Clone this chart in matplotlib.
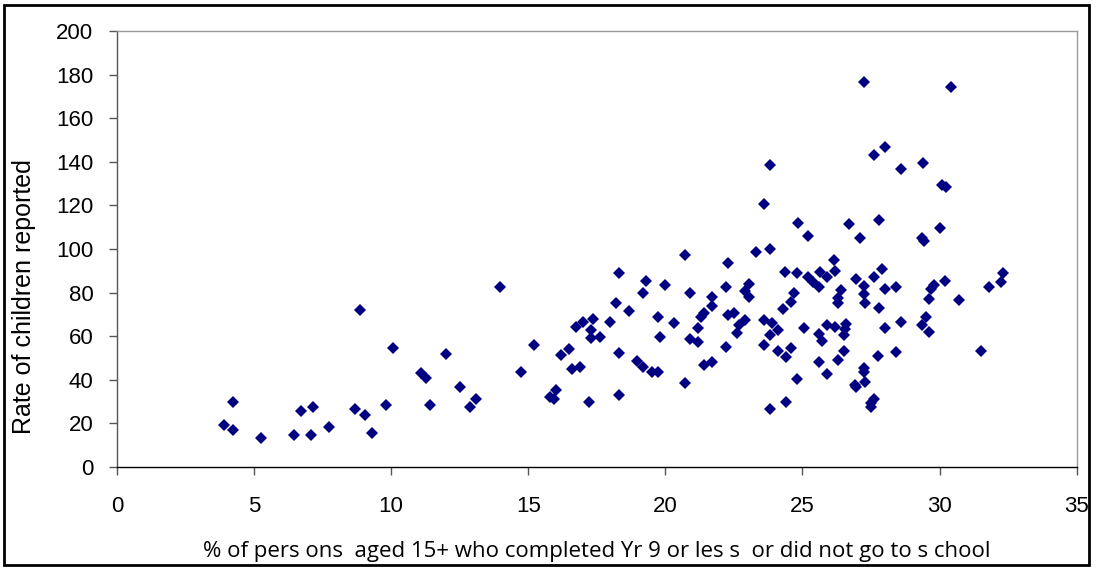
import matplotlib.pyplot as plt
from matplotlib.patches import Rectangle

plt.rcParams['font.family'] = ['Liberation Sans', 'DejaVu Sans']

# % of persons aged 15+ with Yr 9 or less schooling, by area
pct_low_school = [
    4.23, 3.92, 4.22, 5.25, 6.44, 6.72, 7.15, 7.08, 7.75, 8.69,
    8.85, 9.06, 9.3, 9.8, 10.08, 11.1, 11.27, 11.4, 12.0, 12.5,
    12.87, 13.08, 13.97, 14.75,
    20.7, 18.3, 22.3, 23.3, 23.8, 24.35, 24.8, 24.85, 19.3, 20.0,
    19.2, 20.9, 22.2, 23.05, 22.9, 23.05, 24.7, 24.6, 24.3, 21.7,
    21.7, 21.4, 21.3, 22.3, 22.5, 22.9, 22.7, 22.6, 23.6, 23.9,
    24.1, 23.8, 23.6, 24.1, 24.6, 24.4, 24.8, 24.4, 23.8, 22.2,
    21.2, 20.9, 21.2, 20.3, 19.75, 19.8, 18.66, 18.2, 18.0, 17.36,
    17.0, 16.75, 17.3, 17.3, 17.6, 15.2, 16.5, 16.2, 16.6, 16.9,
    18.3, 18.96, 19.2, 19.5, 19.75, 15.8, 16.0, 15.95, 17.2, 18.3,
    20.7, 21.4, 21.7,
    27.25, 30.43, 23.8, 27.6, 28.0, 28.6, 29.4, 30.1, 30.25, 23.6,
    25.2, 26.7, 27.1, 27.8, 29.35, 29.45, 30.0, 26.15,
    25.2, 25.4, 25.65, 25.9, 25.6, 26.2, 26.95, 27.6, 27.9, 27.25,
    27.25, 27.3, 28.0, 28.4, 27.8, 26.4, 26.3, 26.3, 29.8, 30.2,
    29.7, 29.6, 30.7, 31.8, 32.3, 32.25, 31.5, 25.07, 25.6, 25.7,
    25.9, 26.2, 26.6, 26.55, 26.5, 26.5, 26.3, 25.6, 25.9, 27.25,
    27.25, 27.3, 26.95, 26.9, 27.75, 28.4, 28.0, 28.6, 29.5, 29.35,
    29.6, 27.6, 27.5, 27.5,
]

# rate of children reported, same areas
rate_reported = [
    30, 19.3, 17, 13.4, 14.7, 25.5, 27.5, 14.5, 18.2, 26.5,
    72.2, 23.7, 15.4, 28.3, 54.7, 43, 41, 28.3, 52, 36.6,
    27.5, 31, 82.4, 43.7,
    97.1, 88.8, 93.4, 98.8, 99.8, 89.6, 88.8, 112, 85.3, 83.3,
    79.7, 79.7, 82.4, 83.8, 80.7, 77.8, 80, 75.8, 72.3, 78.1,
    73.9, 70.5, 69, 69.7, 70.8, 67.4, 65.1, 61.3, 67.4, 65.9,
    62.8, 60.6, 56, 53.2, 54.4, 50.6, 40.2, 30, 26.5, 55.2,
    63.6, 58.6, 57.5, 65.9, 68.7, 59.5, 71.6, 75.1, 66.7, 67.9,
    66.4, 64.1, 62.8, 59, 59.5, 55.8, 54, 51.4, 44.8, 45.7,
    52.2, 48.5, 46, 43.7, 43.7, 32.2, 35.3, 31.2, 30, 33,
    38.4, 46.8, 48.3,
    176.8, 174.1, 138.5, 143.3, 147, 136.9, 139.6, 129.5, 128.3, 120.5,
    106, 111.6, 105.2, 113.3, 105, 103.8, 109.8, 94.8,
    87.1, 85, 89.4, 87.1, 82.5, 89.8, 86.3, 87.1, 90.9, 83,
    79.2, 75.1, 81.8, 82.7, 72.7, 81.2, 77.7, 75.1, 83.7, 85.2,
    81.5, 76.9, 76.5, 82.7, 89, 85, 53.4, 63.6, 61, 58,
    65.3, 64.4, 65.6, 63.3, 60.6, 53, 48.9, 48.2, 42.8, 45.4,
    43.5, 39, 36.8, 37.8, 50.9, 52.7, 63.6, 66.3, 68.6, 65.1,
    61.8, 31.2, 29.2, 27.7,
]

x_ticks = [0, 5, 10, 15, 20, 25, 30, 35]
y_ticks = [0, 20, 40, 60, 80, 100, 120, 140, 160, 180, 200]

fig = plt.figure(figsize=(10.93, 5.67), dpi=100)
ax = fig.add_axes([0.107, 0.1764, 0.878, 0.769])

ax.plot(pct_low_school, rate_reported, linestyle='none', marker='D',
        markersize=6.2, color='#000080', markeredgewidth=0)

ax.set_xlim(0, 35)
ax.set_ylim(0, 200)
ax.set_xticks(x_ticks)
ax.set_yticks(y_ticks)

ax.tick_params(axis='y', direction='out', length=6, width=1, color='#555555',
               pad=11, labelsize=16)
ax.tick_params(axis='x', direction='out', length=6, width=1, color='#555555',
               pad=15, labelsize=16)

ax.spines['top'].set_color('#999999')
ax.spines['right'].set_color('#999999')
ax.spines['left'].set_color('#555555')
ax.spines['bottom'].set_color('black')
for s in ax.spines.values():
    s.set_linewidth(1)

ax.set_xlabel('% of pers ons  aged 15+ who completed Yr 9 or les s  or did not go to s chool',
              fontsize=16, family=['Open Sans', 'DejaVu Sans'], labelpad=17)
ax.set_ylabel('Rate of children reported', fontsize=18)
ax.yaxis.set_label_coords(-0.084, 0.39)

# frame round the whole chart
fig.patches.append(Rectangle((0.004, 0.003), 0.992, 0.989, transform=fig.transFigure,
                             fill=False, edgecolor='black', linewidth=2))

fig.savefig('out.png', dpi=100)
